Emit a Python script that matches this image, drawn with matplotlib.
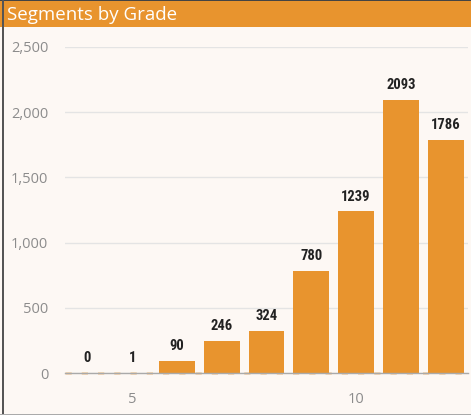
import matplotlib.pyplot as plt
from matplotlib.patches import Rectangle
from matplotlib import font_manager

grades = [4, 5, 6, 7, 8, 9, 10, 11, 12]
segments = [0, 1, 90, 246, 324, 780, 1239, 2093, 1786]
y_ticks = [0, 500, 1000, 1500, 2000, 2500]
x_ticks = [5, 10]

orange = "#E8942E"
bg = "#FDF8F4"
tick_col = "#8C8C8C"

# condensed font for the value labels, if there is one
names = set(f.name for f in font_manager.fontManager.ttflist)
cond = [n for n in ["Liberation Sans Narrow", "DejaVu Sans Condensed", "Roboto Condensed"] if n in names]
label_fam = cond + ["DejaVu Sans"]

fig = plt.figure(figsize=(4.71, 4.15), dpi=100, facecolor=bg)

# title bar
fig.patches.append(Rectangle((0, 1 - 27 / 415), 1, 27 / 415, transform=fig.transFigure,
                             facecolor=orange, edgecolor="none", zorder=0))
fig.patches.append(Rectangle((0, 1 - 1.5 / 415), 1, 1.5 / 415, transform=fig.transFigure,
                             facecolor="#444444", edgecolor="none", zorder=1))
fig.patches.append(Rectangle((2 / 471, 0), 1.5 / 471, 1, transform=fig.transFigure,
                             facecolor="#555555", edgecolor="none", zorder=1))
fig.patches.append(Rectangle((0, 0), 1, 1.5 / 415, transform=fig.transFigure,
                             facecolor="#AAAAAA", edgecolor="none", zorder=1))
fig.text(7 / 471, 1 - 14.5 / 415, "Segments by Grade", color="white", fontsize=13.5,
         family="Open Sans", va="center", ha="left")

ax = fig.add_axes([65 / 471, 1 - 373 / 415, 403 / 471, (373 - 47) / 415])
ax.set_facecolor(bg)
ax.bar(grades, segments, width=0.8, color=orange, zorder=3)
ax.axhline(0, color=orange, lw=1.8, ls=(0, (2.5, 4)), alpha=0.4, zorder=4, clip_on=False)
ax.axhline(0, color="#AAAAAA", lw=1, zorder=5, clip_on=False)

for g, v in zip(grades, segments):
    t = ax.text(g, v + 60, str(v), ha="center", va="bottom", fontsize=10.5,
                fontweight="bold", family=label_fam, color="#222222", zorder=6)
    if not cond:
        t.set_fontstretch("condensed")

ax.set_xlim(3.5, 12.5)
ax.set_ylim(0, 2500)
ax.set_yticks(y_ticks)
ax.set_yticklabels(["{:,}".format(t) for t in y_ticks])
ax.set_xticks(x_ticks)
ax.grid(axis="y", color="#E4E4E4", lw=1, zorder=0)
for s in ax.spines.values():
    s.set_visible(False)
ax.tick_params(length=0, colors=tick_col, labelsize=10.5)
ax.tick_params(axis="y", pad=12)
ax.tick_params(axis="x", pad=14)
for lab in ax.get_xticklabels() + ax.get_yticklabels():
    lab.set_family("Open Sans")

fig.savefig("out.png", dpi=100, facecolor=bg)
